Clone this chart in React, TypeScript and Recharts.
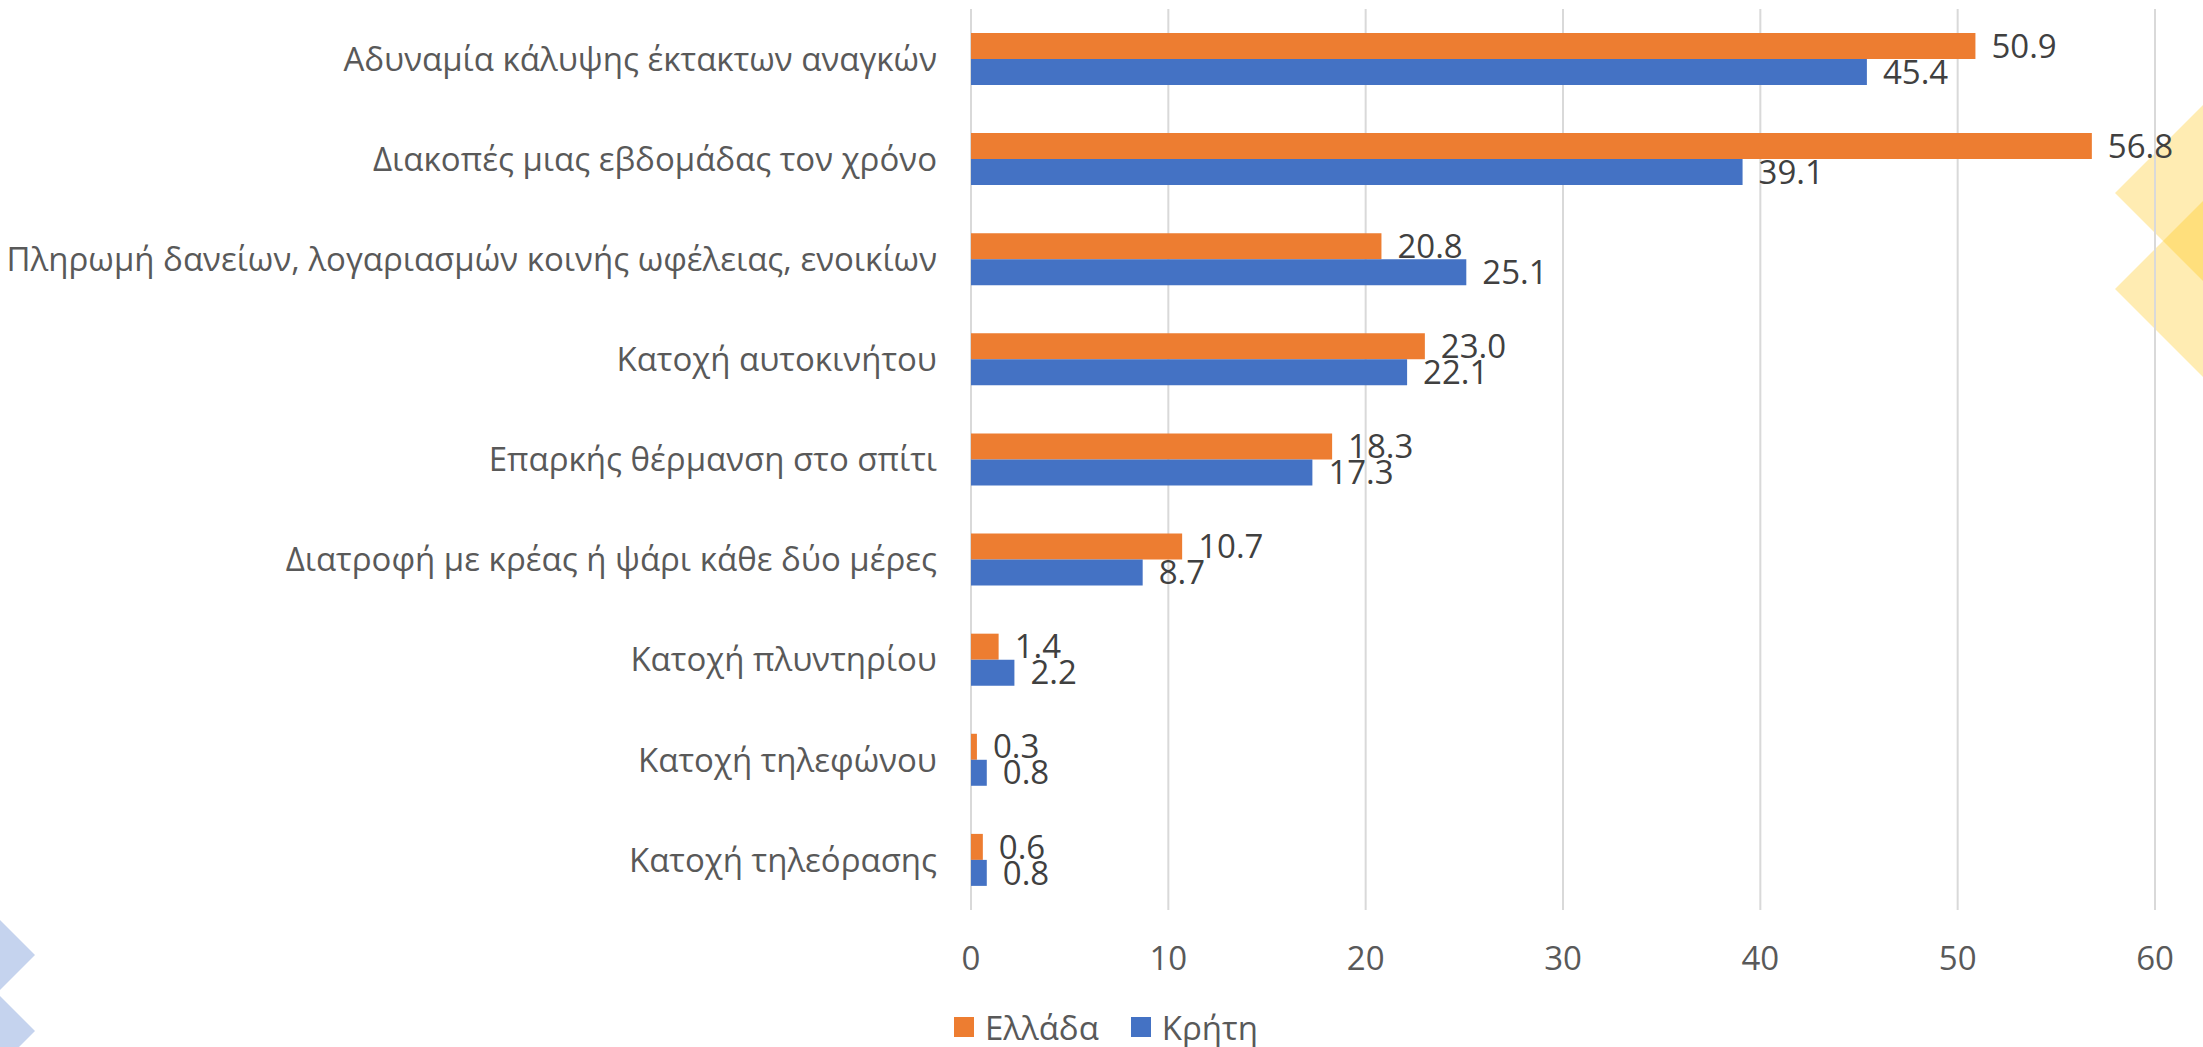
import { BarChart, Bar, XAxis, YAxis, CartesianGrid, Legend, LabelList } from 'recharts';

const categories = [
    'Αδυναμία κάλυψης έκτακτων αναγκών',
    'Διακοπές μιας εβδομάδας τον χρόνο',
    'Πληρωμή δανείων, λογαριασμών κοινής ωφέλειας, ενοικίων',
    'Κατοχή αυτοκινήτου',
    'Επαρκής θέρμανση στο σπίτι',
    'Διατροφή με κρέας ή ψάρι κάθε δύο μέρες',
    'Κατοχή πλυντηρίου',
    'Κατοχή τηλεφώνου',
    'Κατοχή τηλεόρασης',
];
const greece = [50.9, 56.8, 20.8, 23.0, 18.3, 10.7, 1.4, 0.3, 0.6];
const crete = [45.4, 39.1, 25.1, 22.1, 17.3, 8.7, 2.2, 0.8, 0.8];
const xTicks = [0, 10, 20, 30, 40, 50, 60];

const SERIES = [
    { key: 'greece', name: 'Ελλάδα', color: '#ED7D31' },
    { key: 'crete', name: 'Κρήτη', color: '#4472C4' },
];

const FONT = "'Open Sans', 'Noto Sans', sans-serif";

const data = categories.map((name, i) => ({ name, greece: greece[i], crete: crete[i] }));

function LegendContent() {
    return (
        <div style={{ display: 'flex', justifyContent: 'center', alignItems: 'center', height: 40, paddingLeft: 9, fontFamily: FONT, fontSize: 33, color: '#595959' }}>
            {SERIES.map((s, i) => (
                <span key={s.key} style={{ display: 'inline-flex', alignItems: 'center', marginLeft: i === 0 ? 0 : 32 }}>
                    <span style={{ width: 20, height: 20, background: s.color, marginRight: 11, display: 'inline-block' }} />
                    {s.name}
                </span>
            ))}
        </div>
    );
}

export default function App() {
    return (
        <div style={{ position: 'absolute', left: 0, top: 0, width: 2203, height: 1047, background: '#fff' }}>
            {/* slide decorations behind the chart */}
            <svg width={2203} height={1047} style={{ position: 'absolute', left: 0, top: 0 }}>
                <polygon points="2115,193 2203,105 2291,193 2203,281" fill="#FFC000" fillOpacity={0.3} />
                <polygon points="2115,289 2203,201 2291,289 2203,377" fill="#FFC000" fillOpacity={0.3} />
                <polygon points="35,955 0,920 -35,955 0,990" fill="#C5D3EE" />
                <polygon points="35,1031 0,996 -35,1031 0,1066" fill="#C5D3EE" />
            </svg>
            <div style={{ position: 'absolute', left: 0, top: 0 }}>
                <BarChart
                    width={2203}
                    height={1047}
                    data={data}
                    layout="vertical"
                    margin={{ top: 9, right: 48, left: 0, bottom: 37 }}
                    barSize={26}
                    barGap={0}
                >
                    <CartesianGrid horizontal={false} stroke="#D9D9D9" strokeWidth={2} />
                    <XAxis
                        type="number"
                        domain={[0, 60]}
                        ticks={xTicks}
                        height={60}
                        axisLine={false}
                        tickLine={false}
                        tickSize={0}
                        tickMargin={37}
                        tick={{ fontSize: 33, fill: '#595959', fontFamily: FONT }}
                    />
                    <YAxis
                        type="category"
                        dataKey="name"
                        width={971}
                        axisLine={false}
                        tickLine={false}
                        tickSize={0}
                        tickMargin={34}
                        interval={0}
                        tick={{ fontSize: 33, fill: '#595959', fontFamily: FONT }}
                    />
                    <Legend verticalAlign="bottom" content={<LegendContent />} wrapperStyle={{ left: 0, width: 2203, bottom: 0, height: 40 }} />
                    {SERIES.map(s => (
                        <Bar key={s.key} dataKey={s.key} name={s.name} fill={s.color} isAnimationActive={false}>
                            <LabelList
                                dataKey={s.key}
                                position="right"
                                offset={16}
                                formatter={(v: number) => v.toFixed(1)}
                                style={{ fontSize: 33, fill: '#404040', fontFamily: FONT }}
                            />
                        </Bar>
                    ))}
                </BarChart>
            </div>
        </div>
    );
}
